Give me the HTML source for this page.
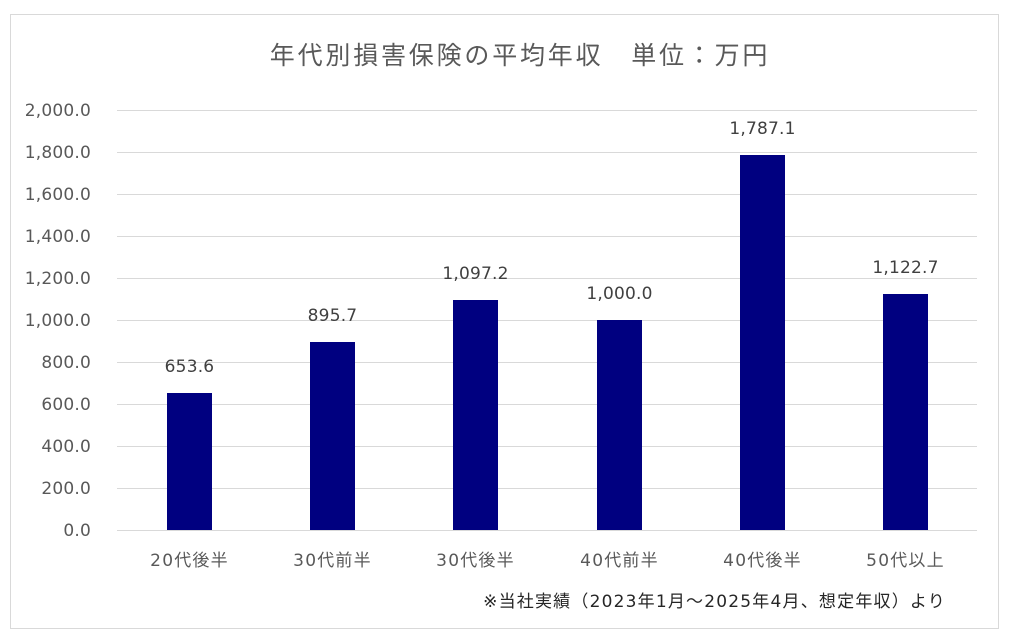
<!DOCTYPE html>
<html><head><meta charset="utf-8"><style>
body{margin:0;background:#fff;}
svg text{font-family:"DejaVu Sans","Noto Sans CJK JP",sans-serif;}
</style></head><body>
<svg width="1024" height="636" xmlns="http://www.w3.org/2000/svg">
<rect x="10.5" y="14.5" width="988" height="614" fill="#fff" stroke="#d9d9d9" stroke-width="1"/>
<text x="520" y="64" font-size="25" letter-spacing="2.8" fill="#595959" text-anchor="middle">年代別損害保険の平均年収　単位：万円</text>
<g stroke="#d9d9d9" stroke-width="1">
<line x1="117" x2="977" y1="110.5" y2="110.5"/>
<line x1="117" x2="977" y1="152.5" y2="152.5"/>
<line x1="117" x2="977" y1="194.5" y2="194.5"/>
<line x1="117" x2="977" y1="236.5" y2="236.5"/>
<line x1="117" x2="977" y1="278.5" y2="278.5"/>
<line x1="117" x2="977" y1="320.5" y2="320.5"/>
<line x1="117" x2="977" y1="362.5" y2="362.5"/>
<line x1="117" x2="977" y1="404.5" y2="404.5"/>
<line x1="117" x2="977" y1="446.5" y2="446.5"/>
<line x1="117" x2="977" y1="488.5" y2="488.5"/>
<line x1="117" x2="977" y1="530.5" y2="530.5"/>
</g>
<g font-size="17" letter-spacing="0.2" fill="#595959" text-anchor="end">
<text x="91" y="116">2,000.0</text>
<text x="91" y="158">1,800.0</text>
<text x="91" y="200">1,600.0</text>
<text x="91" y="242">1,400.0</text>
<text x="91" y="284">1,200.0</text>
<text x="91" y="326">1,000.0</text>
<text x="91" y="368">800.0</text>
<text x="91" y="410">600.0</text>
<text x="91" y="452">400.0</text>
<text x="91" y="494">200.0</text>
<text x="91" y="536">0.0</text>
</g>
<g fill="#000080">
<rect x="167" y="393" width="45" height="137"/>
<rect x="310" y="342" width="45" height="188"/>
<rect x="453" y="300" width="45" height="230"/>
<rect x="597" y="320" width="45" height="210"/>
<rect x="740" y="155" width="45" height="375"/>
<rect x="883" y="294" width="45" height="236"/>
</g>
<g font-size="17" letter-spacing="0.2" fill="#404040" text-anchor="middle">
<text x="189.5" y="372">653.6</text>
<text x="332.5" y="321">895.7</text>
<text x="475.5" y="279">1,097.2</text>
<text x="619.5" y="299">1,000.0</text>
<text x="762.5" y="134">1,787.1</text>
<text x="905.5" y="273">1,122.7</text>
</g>
<g font-size="17" letter-spacing="1.2" fill="#595959" text-anchor="middle">
<text x="189.5" y="566">20代後半</text>
<text x="332.5" y="566">30代前半</text>
<text x="475.5" y="566">30代後半</text>
<text x="619.5" y="566">40代前半</text>
<text x="762.5" y="566">40代後半</text>
<text x="905.5" y="566">50代以上</text>
</g>
<text x="946" y="607" font-size="17" letter-spacing="1.2" fill="#262626" text-anchor="end">※当社実績（2023年1月～2025年4月、想定年収）より</text>
</svg>
</body></html>
